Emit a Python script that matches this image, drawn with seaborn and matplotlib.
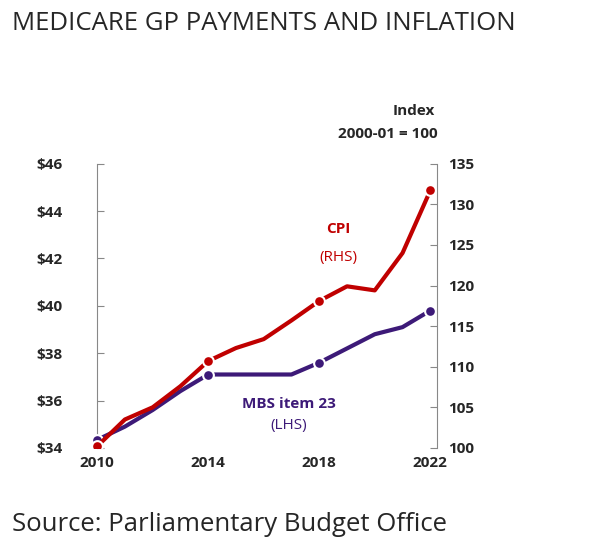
import matplotlib
matplotlib.use("Agg")
import matplotlib.pyplot as plt
import seaborn as sns
import pandas as pd

years = list(range(2010, 2023))
mbs = [34.34, 34.9, 35.6, 36.4, 37.1, 37.1, 37.1, 37.1, 37.6, 38.2, 38.8, 39.1, 39.8]
cpi = [100.2, 103.5, 105.0, 107.6, 110.7, 112.3, 113.4, 115.7, 118.1, 119.9, 119.4, 124.0, 131.7]
marker_years = [2010, 2014, 2018, 2022]
left_ticks = [34, 36, 38, 40, 42, 44, 46]
right_ticks = [100, 105, 110, 115, 120, 125, 130, 135]

sns.set_style("white")
plt.rcParams['font.family'] = ['Open Sans', 'DejaVu Sans']
df = pd.DataFrame({"year": years, "mbs": mbs, "cpi": cpi})
dm = df[df.year.isin(marker_years)]

fig = plt.figure(figsize=(6.04, 5.53), dpi=100)
ax = fig.add_axes([0.147, 0.19, 0.593, 0.514])
ax2 = ax.twinx()
purple = "#3d1a78"; red = "#c00000"
sns.lineplot(data=df, x="year", y="mbs", ax=ax, color=purple, lw=3)
sns.scatterplot(data=dm, x="year", y="mbs", ax=ax, color=purple, s=60, edgecolor="white", linewidth=1.5, zorder=5)
sns.lineplot(data=df, x="year", y="cpi", ax=ax2, color=red, lw=3)
sns.scatterplot(data=dm, x="year", y="cpi", ax=ax2, color=red, s=60, edgecolor="white", linewidth=1.5, zorder=5)

ax.set_ylim(34, 46); ax2.set_ylim(100, 135)
ax.set_xlim(2009.7, 2022.6)
ax.set_yticks(left_ticks); ax.set_yticklabels([f"${t}" for t in left_ticks])
ax2.set_yticks(right_ticks); ax2.set_yticklabels([str(t) for t in right_ticks])
ax.set_xticks(marker_years); ax.set_xticklabels([str(y) for y in marker_years])
for a in (ax, ax2):
    a.set_xlabel(""); a.set_ylabel("")
    for s in ("top", "bottom"):
        a.spines[s].set_visible(False)
    a.spines["left"].set_color("#888"); a.spines["right"].set_color("#888")
ax.spines["left"].set_position(("data", 2010)); ax2.spines["left"].set_visible(False)
ax.spines["right"].set_visible(False)
ax2.spines["right"].set_position(("data", 2022.25))
ax.tick_params(axis="y", direction="in", length=5, color="#888", pad=25, left=True)
ax2.tick_params(axis="y", direction="in", length=5, color="#888", pad=8, right=True)
ax.tick_params(axis="x", length=0, pad=6)
for lbl in ax.get_yticklabels() + ax2.get_yticklabels() + ax.get_xticklabels():
    lbl.set_fontweight("bold"); lbl.set_fontsize(11)

ax2.text(2018.7, 126.5, "CPI", color=red, fontsize=11, fontweight="bold", ha="center")
ax2.text(2018.7, 123.0, "(RHS)", color=red, fontsize=11, ha="center")
ax.text(2016.9, 35.7, "MBS item 23", color=purple, fontsize=11, fontweight="bold", ha="center")
ax.text(2016.9, 34.8, "(LHS)", color=purple, fontsize=11, ha="center")
fig.text(0.72, 0.792, "Index", fontsize=11, fontweight="bold", ha="right")
fig.text(0.725, 0.75, "2000-01 = 100", fontsize=11, fontweight="bold", ha="right")
fig.text(0.02, 0.945, "MEDICARE GP PAYMENTS AND INFLATION", fontsize=18.5)
fig.text(0.02, 0.04, "Source: Parliamentary Budget Office", fontsize=18.5)
fig.savefig("out.png", dpi=100)
